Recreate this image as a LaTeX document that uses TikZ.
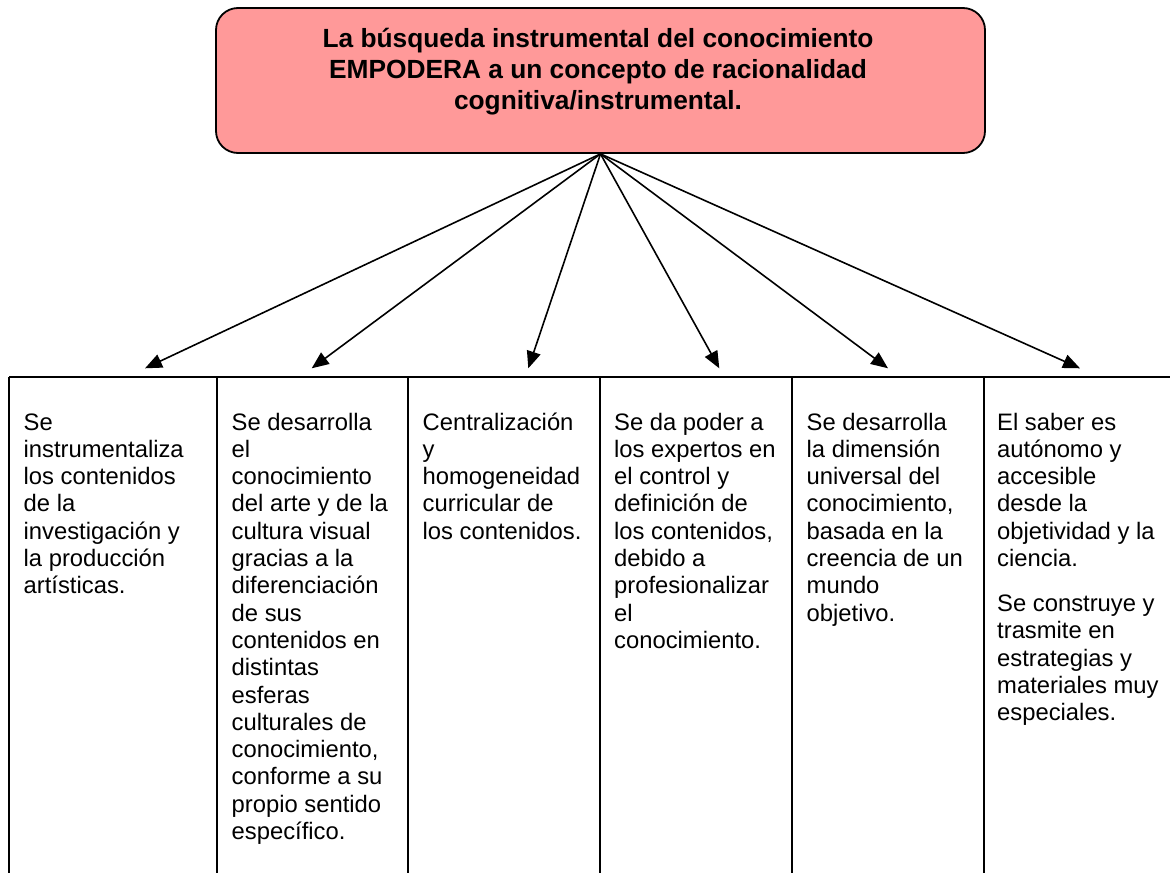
\documentclass[tikz,border=0pt]{standalone}
\usepackage{fontspec}
\setmainfont{Liberation Sans}
\usetikzlibrary{arrows.meta}
\definecolor{boxpink}{RGB}{255,153,153}
\begin{document}
\begin{tikzpicture}[x=1pt,y=-1pt,
  tline/.style={line width=2pt},
  arr/.style={line width=1.6pt,-{Triangle[length=17pt,width=14pt]}},
  cell/.style={anchor=base west,inner sep=0pt,font=\fontsize{23.8}{27.3}\selectfont},
  titlebox/.style={draw,line width=1.8pt,fill=boxpink,rounded corners=22pt,minimum width=769pt,minimum height=145pt,inner sep=0pt},
  titletext/.style={anchor=base,inner sep=0pt,font=\bfseries\fontsize{26.3}{31}\selectfont}
]
\useasboundingbox (0,0) rectangle (1170,873);
% title box
\node[titlebox] (top) at (600.5,80.5) {};
\node[titletext] (title) at (598,47) {\parbox[t]{760pt}{\centering La búsqueda instrumental del conocimiento\\ EMPODERA a un concepto de racionalidad\\ cognitiva/instrumental.}};
% table lines
\draw[tline] (9,377) -- (1170,377);
\foreach \xx in {9,217,408,600,792,984}{
  \draw[tline] (\xx,377) -- (\xx,873);
}
% arrow tips
\coordinate (t1) at (145,368.3);
\coordinate (t2) at (311.7,368.3);
\coordinate (t3) at (528.3,368.3);
\coordinate (t4) at (719.3,368.3);
\coordinate (t5) at (888,368.3);
\coordinate (t6) at (1080,368.3);
\foreach \t in {t1,t2,t3,t4,t5,t6}{
  \draw[arr] (top.south) -- (\t);
}
% cell texts
\node[cell] (c1) at (23.5,430) {\parbox[t]{185pt}{\raggedright Se\\ instrumentaliza\\ los contenidos\\ de la\\ investigación y\\ la producción\\ artísticas.}};
\node[cell] (c2) at (231.5,430) {\parbox[t]{175pt}{\raggedright Se desarrolla\\ el\\ conocimiento\\ del arte y de la\\ cultura visual\\ gracias a la\\ diferenciación\\ de sus\\ contenidos en\\ distintas\\ esferas\\ culturales de\\ conocimiento,\\ conforme a su\\ propio sentido\\ específico.}};
\node[cell] (c3) at (422.5,430) {\parbox[t]{175pt}{\raggedright Centralización\\ y\\ homogeneidad\\ curricular de\\ los contenidos.}};
\node[cell] (c4) at (614,430) {\parbox[t]{175pt}{\raggedright Se da poder a\\ los expertos en\\ el control y\\ definición de\\ los contenidos,\\ debido a\\ profesionalizar\\ el\\ conocimiento.}};
\node[cell] (c5) at (806.5,430) {\parbox[t]{175pt}{\raggedright Se desarrolla\\ la dimensión\\ universal del\\ conocimiento,\\ basada en la\\ creencia de un\\ mundo\\ objetivo.}};
\node[cell] (c6) at (997,430) {\parbox[t]{175pt}{\raggedright El saber es\\ autónomo y\\ accesible\\ desde la\\ objetividad y la\\ ciencia.\par\vspace{17.7pt}Se construye y\\ trasmite en\\ estrategias y\\ materiales muy\\ especiales.}};
\end{tikzpicture}
\end{document}
